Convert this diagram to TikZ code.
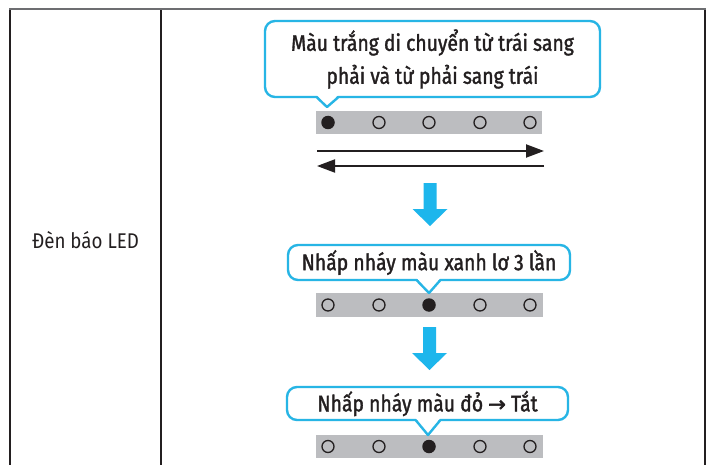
\documentclass[tikz,border=0pt]{standalone}
\usepackage{fontspec}
\setmainfont{Fira Sans}[FakeStretch=0.88]
\newfontfamily\calloutfont{Fira Sans}[FakeStretch=0.86,FakeBold=1.5]
\newfontfamily\arrowfont{DejaVu Sans}[FakeBold=2.5]
\usetikzlibrary{arrows.meta,calc}
\definecolor{callcyan}{HTML}{27B5E5}
\definecolor{arrowblue}{HTML}{1DB6EC}
\definecolor{stripgray}{HTML}{BCBDC0}
\definecolor{ink}{HTML}{231F20}
\definecolor{rulegray}{HTML}{6D6E71}
\tikzset{
  callout/.style={draw=callcyan, line width=2.4pt, rounded corners=10pt, fill=white,
    text=ink, font=\calloutfont\fontsize{22.5}{33}\selectfont, align=center, inner sep=0pt},
  tailfill/.style={fill=white},
  taildraw/.style={draw=callcyan, line width=2.4pt, line join=round},
  strip/.style={fill=stripgray, draw=none, inner sep=0pt, minimum height=23.5pt},
  ledoff/.style={circle, draw=ink, line width=1.3pt, fill=none, minimum size=12pt, inner sep=0pt},
  ledon/.style={circle, fill=ink, draw=none, minimum size=13.5pt, inner sep=0pt},
  blackarrow/.style={draw=ink, line width=2pt, -{Triangle[length=18pt,width=13pt]}},
  bluearrow/.style={fill=arrowblue, draw=none},
  tablerule/.style={draw=ink, line width=1.5pt},
}
\newcommand{\ledrow}[3]{% prefix, y, on-index
  \foreach \i/\xx in {1/328,2/379,3/429,4/480,5/530}{
    \ifnum\i=#3\relax
      \node[ledon] (#1\i) at (\xx,#2) {};
    \else
      \node[ledoff] (#1\i) at (\xx,#2) {};
    \fi
  }}
\newcommand{\bluedown}[2]{% center x, top y
  \fill[bluearrow] (#1-6.5,#2) -- (#1+6.5,#2) -- (#1+6.5,#2+26) -- (#1+17.5,#2+26)
    -- (#1,#2+43) -- (#1-17.5,#2+26) -- (#1-6.5,#2+26) -- cycle;}
\begin{document}
\begin{tikzpicture}[x=1pt,y=-1pt]
\useasboundingbox (0,0) rectangle (711,465);
\fill[white] (0,0) rectangle (711,465);
% table
\draw[tablerule] (10,9) -- (10,465);
\draw[tablerule] (161,9) -- (161,465);
\draw[tablerule] (705,9) -- (705,465);
\draw[draw=rulegray, line width=2.5pt] (9.25,9) -- (705.75,9);
\node[text=ink, font=\fontsize{21.3}{24}\selectfont, anchor=base] (lbl) at (85.5,248) {Đèn báo LED};

% callout 1
\node[callout, minimum width=335pt, minimum height=76pt] (c1) at (432.5,59)
  {Màu trắng di chuyển từ trái sang\\phải và từ phải sang trái};
\node[strip, minimum width=226pt] (s1) at (429,122.5) {};
\fill[tailfill] (316,94) -- (327,107) -- (339,94) -- cycle;
\draw[taildraw] (317,97.5) -- (327,107) -- (338,97.5);
\ledrow{a}{122.5}{1}

% double arrows
\coordinate (r0) at (317,151);
\coordinate (r1) at (544,151);
\coordinate (l0) at (544,166);
\coordinate (l1) at (317,166);
\draw[blackarrow] (r0) -- (r1);
\draw[blackarrow] (l0) -- (l1);

\bluedown{430}{183}

% callout 2
\node[callout, minimum width=282pt, minimum height=35pt] (c2) at (429,262.5)
  {Nhấp nháy màu xanh lơ 3 lần};
\node[strip, minimum width=227pt] (s2) at (429.5,305) {};
\fill[tailfill] (416,277) -- (429,293) -- (441,277) -- cycle;
\draw[taildraw] (417,280.5) -- (429,293) -- (440,280.5);
\ledrow{b}{305}{3}

\bluedown{429.5}{327}

% callout 3
\node[callout, minimum width=281pt, minimum height=33pt] (c3) at (427.5,403.5)
  {Nhấp nháy màu đỏ {\arrowfont\fontsize{21}{22}\selectfont →} Tắt};
\node[strip, minimum width=227pt] (s3) at (429.5,446.5) {};
\fill[tailfill] (415,417) -- (428,435) -- (441,417) -- cycle;
\draw[taildraw] (416,420.5) -- (428,435) -- (440,420.5);
\ledrow{c}{446.5}{3}
\end{tikzpicture}
\end{document}
